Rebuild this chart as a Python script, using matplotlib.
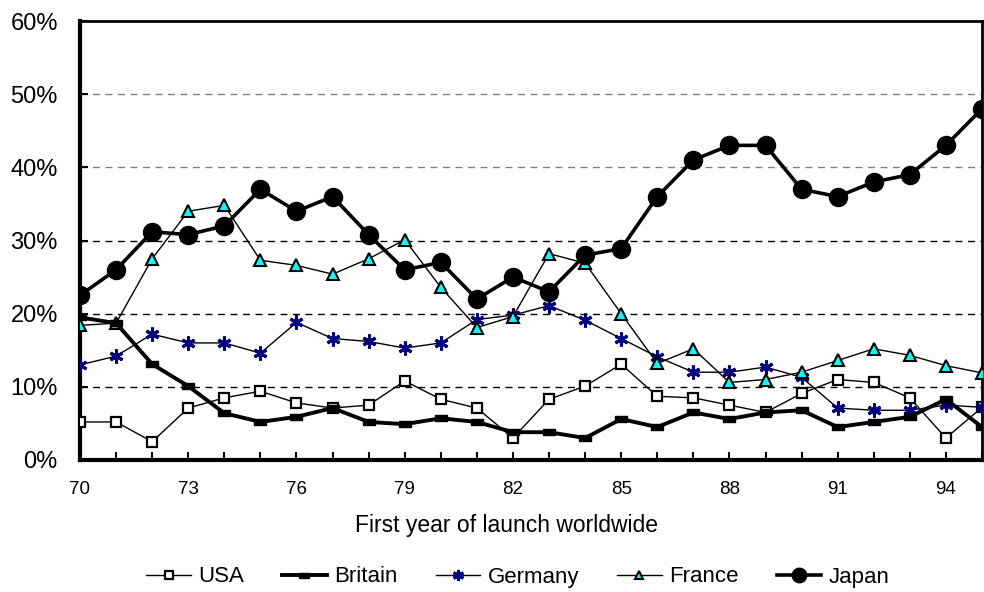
import matplotlib
matplotlib.use("Agg")
import matplotlib.pyplot as plt
from matplotlib.path import Path
from matplotlib.ticker import FixedLocator, MultipleLocator

plt.rcParams['font.family'] = ['Liberation Sans', 'DejaVu Sans']

years = list(range(1970, 1996))
usa = [5.2, 5.2, 2.5, 7.1, 8.5, 9.4, 7.8, 7.1, 7.5, 10.8, 8.3, 7.1, 3.0, 8.3, 10.1, 13.1,
       8.7, 8.5, 7.5, 6.5, 9.1, 11.0, 10.6, 8.5, 3.0, 7.2]
britain = [19.5, 18.7, 13.1, 10.1, 6.4, 5.2, 5.9, 7.1, 5.2, 4.9, 5.7, 5.2, 3.8, 3.8, 3.0, 5.6,
           4.5, 6.5, 5.6, 6.5, 6.8, 4.5, 5.2, 5.9, 8.3, 4.5]
germany = [13.0, 14.2, 17.2, 16.0, 16.0, 14.6, 18.8, 16.6, 16.2, 15.3, 16.0, 19.2, 19.8, 21.1,
           19.1, 16.6, 14.1, 12.0, 12.0, 12.7, 11.3, 7.1, 6.8, 6.8, 7.5, 7.2]
france = [18.4, 18.7, 27.5, 34.0, 34.8, 27.3, 26.6, 25.4, 27.5, 30.1, 23.6, 18.1, 19.6, 28.2,
          26.9, 20.0, 13.2, 15.2, 10.6, 11.0, 12.0, 13.6, 15.2, 14.3, 12.9, 11.9]
japan = [22.5, 26.0, 31.2, 30.8, 32.0, 37.0, 34.0, 36.0, 30.8, 26.0, 27.0, 22.0, 25.0, 23.0,
         28.0, 28.9, 36.0, 41.0, 43.0, 43.0, 37.0, 36.0, 38.0, 39.0, 43.0, 48.0]
series_names = ["USA", "Britain", "Germany", "France", "Japan"]
xtick_years = [1970, 1973, 1976, 1979, 1982, 1985, 1988, 1991, 1994]
xtick_labels = ["70", "73", "76", "79", "82", "85", "88", "91", "94"]
ytick_vals = [0, 10, 20, 30, 40, 50, 60]
ytick_labels = ["0%", "10%", "20%", "30%", "40%", "50%", "60%"]
x_title = "First year of launch worldwide"

fig = plt.figure(figsize=(9.84, 5.92), dpi=100)
ax = fig.add_axes([80/984, 132/592, 902/984, 439/592])

# gridlines
for v in ytick_vals[1:-1]:
    col = '#808080' if v >= 40 else 'black'
    ax.axhline(v, color=col, lw=1.0, ls=(0, (5, 4)), zorder=1)

rect = Path([(-1, -0.5), (1, -0.5), (1, 0.5), (-1, 0.5), (-1, -0.5)],
            [Path.MOVETO, Path.LINETO, Path.LINETO, Path.LINETO, Path.CLOSEPOLY])

ax.plot(years, usa, color='black', lw=1.0, marker='s', ms=7, mfc='white', mec='black',
        mew=1.6, label=series_names[0], zorder=3)
ax.plot(years, britain, color='black', lw=2.8, marker=rect, ms=9, mfc='black', mec='black',
        label=series_names[1], zorder=4)
ax.plot(years, germany, color='black', lw=1.0, marker=(6, 2, 0), ms=10, mec='#000080',
        mew=2.2, label=series_names[2], zorder=3)
ax.plot(years, france, color='black', lw=1.0, marker='^', ms=8, mfc='#00FFFF', mec='black',
        mew=1.5, label=series_names[3], zorder=3)
ax.plot(years, japan, color='black', lw=2.6, marker='o', ms=13, mfc='black', mec='black',
        label=series_names[4], zorder=5)

ax.set_xlim(1970, 1995)
ax.set_ylim(0, 60)
ax.xaxis.set_major_locator(FixedLocator(xtick_years))
ax.set_xticklabels(xtick_labels, fontsize=13.5)
ax.xaxis.set_minor_locator(MultipleLocator(1))
ax.set_yticks(ytick_vals)
ax.set_yticklabels(ytick_labels, fontsize=17)
ax.tick_params(axis='both', which='both', direction='in', length=6, width=1.5, color='black')
ax.tick_params(axis='x', which='major', pad=15)
ax.tick_params(axis='y', which='major', pad=16)
for s in ax.spines.values():
    s.set_linewidth(2.0)
ax.spines['left'].set_linewidth(3.0)
ax.spines['bottom'].set_linewidth(3.0)

fig.text(506/984, 1 - 532/592, x_title, fontsize=16.5, ha='center', va='baseline')

leg = fig.legend(loc='center', ncol=5, frameon=False, fontsize=16, handlelength=2.0,
                 handletextpad=0.35, columnspacing=1.7, markerscale=0.8)
leg.set_bbox_to_anchor((518/984, 1 - 577/592), transform=fig.transFigure)

fig.savefig("out.png", dpi=100)
